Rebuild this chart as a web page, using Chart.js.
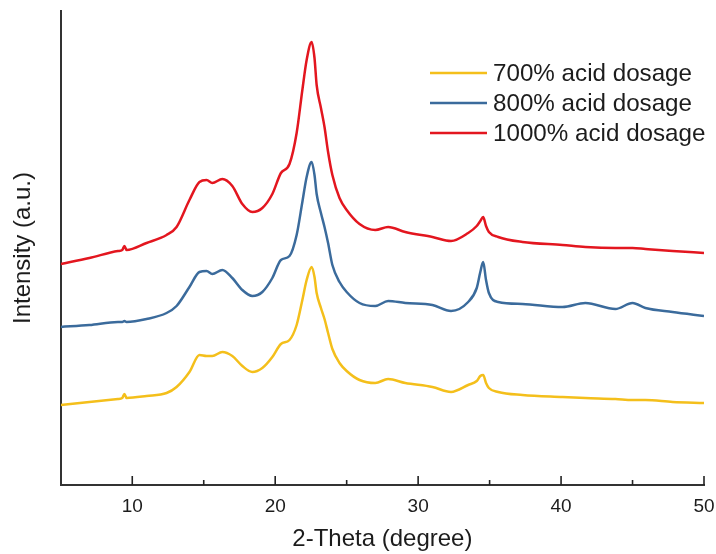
<!DOCTYPE html>
<html>
<head>
<meta charset="utf-8">
<script src="https://cdn.jsdelivr.net/npm/chart.js@4/dist/chart.umd.min.js"></script>
<style>
  html,body{margin:0;padding:0;background:#fff;}
  #wrap{width:716px;height:554px;}
</style>
</head>
<body>
<div id="wrap"><canvas id="chartXrd"></canvas></div>
<script>
/* ==========================================
   DATA
========================================== */
const theta = [
  5,7,9,9.3,9.45,9.6,
  11,12.4,13.1,14.0,14.7,
  15.2,15.6,16.3,17.0,17.7,
  18.4,19.1,19.8,20.4,21.0,
  21.5,21.9,22.2,22.55,22.75,
  22.9,23.2,23.45,23.7,24.0,
  24.5,25.0,25.9,27.0,27.9,
  29.1,31.0,32.3,33.5,34.1,
  34.35,34.55,34.75,34.95,35.6,
  37.3,40.1,41.7,43.8,45.0,
  45.9,47.8,50
];

const acid1000 = [
  221,227,234,235,239,235,
  242,250,258,285,303,
  305,302,306,299,281,
  273,277,291,312,321,
  352,395,425,443,427,
  400,377,358,333,310,
  287,275,261,255,258,
  253,248,244,252,259,
  264,268,259,253,248,
  243,240,238,237,237,
  236,234,232
];

const acid800 = [
  158,160,163,163,164,163,
  166,172,179,198,213,
  214,211,215,207,195,
  189,193,207,225,229,
  250,283,308,323,310,
  291,272,258,242,220,
  203,193,182,179,184,
  182,180,174,183,197,
  213,223,205,192,183,
  181,178,182,176,182,
  177,173,169
];

const acid700 = [
  80,83,86,87,91,87,
  89,92,98,113,130,
  129,129,133,129,119,
  113,117,128,141,145,
  160,185,205,218,208,
  192,177,166,152,136,
  122,114,105,102,106,
  102,98,93,100,104,
  109,110,102,97,93,
  90,88,87,86,85,
  85,83,82
];

const seriesLabels = [
  "700% acid dosage",
  "800% acid dosage",
  "1000% acid dosage"
];

const seriesColors = [
  "#f4bf1b",
  "#3b6b9c",
  "#e3161f"
];

const FONT = "'Liberation Sans', Arial, sans-serif";
const INK = "#1c1c1c";

function toPoints(values){
  return theta.map((t,i)=>({x:t,y:values[i]}));
}

/* ==========================================
   INWARD TICKS ON X AXIS
========================================== */
const inwardTicks = {
  id:"inwardTicks",
  afterDraw(chart){
    const xs = chart.scales.x;
    const ctx = chart.ctx;
    const bottom = chart.chartArea.bottom;
    ctx.save();
    ctx.strokeStyle = "#222";
    ctx.lineWidth = 1.6;
    xs.ticks.forEach(tk=>{
      if(tk.value===xs.min) return;
      const px = xs.getPixelForValue(tk.value);
      const len = tk.value % 10 === 0 ? 9 : 5;
      ctx.beginPath();
      ctx.moveTo(px,bottom);
      ctx.lineTo(px,bottom-len);
      ctx.stroke();
    });
    ctx.restore();
  }
};

/* ==========================================
   LEGEND (top right, lines + labels)
========================================== */
const lineLegend = {
  id:"lineLegend",
  afterDraw(chart){
    const ctx = chart.ctx;
    const x0 = 430, x1 = 487, tx = 493;
    const rows = [73,103,133];
    ctx.save();
    ctx.font = "24.2px " + FONT;
    ctx.textBaseline = "middle";
    ctx.fillStyle = INK;
    seriesLabels.forEach((lbl,i)=>{
      ctx.strokeStyle = seriesColors[i];
      ctx.lineWidth = 2.5;
      ctx.beginPath();
      ctx.moveTo(x0,rows[i]);
      ctx.lineTo(x1,rows[i]);
      ctx.stroke();
      ctx.fillText(lbl,tx,rows[i]+1);
    });
    ctx.restore();
  }
};

/* ==========================================
   CHART
========================================== */
const data = [acid700, acid800, acid1000];

new Chart(
  document.getElementById("chartXrd"),
  {
    type:"line",
    data:{
      datasets:data.map((vals,i)=>({
        label:seriesLabels[i],
        data:toPoints(vals),
        borderColor:seriesColors[i],
        borderWidth:2.5,
        pointRadius:0,
        fill:false,
        cubicInterpolationMode:"monotone"
      }))
    },
    options:{
      responsive:true,
      maintainAspectRatio:false,
      animation:false,
      layout:{
        padding:{top:11,right:12,bottom:0,left:0}
      },
      plugins:{
        legend:{display:false},
        tooltip:{enabled:false}
      },
      scales:{
        x:{
          type:"linear",
          min:5,
          max:50,
          grid:{display:false,drawTicks:false},
          border:{display:true,color:"#333",width:2},
          ticks:{
            stepSize:5,
            autoSkip:false,
            maxRotation:0,
            padding:10,
            color:INK,
            font:{family:FONT,size:19},
            callback:v=> v % 10 === 0 ? String(v) : ""
          },
          title:{
            display:true,
            text:"2-Theta (degree)",
            color:INK,
            font:{family:FONT,size:24},
            padding:{top:0,bottom:0}
          },
          afterFit(scale){
            scale.height = 69;
            scale.paddingRight = 0;
            scale.paddingLeft = 0;
          }
        },
        y:{
          min:0,
          max:474,
          grid:{display:false,drawTicks:false},
          border:{display:true,color:"#333",width:2},
          ticks:{display:false},
          title:{
            display:true,
            text:"Intensity (a.u.)",
            color:INK,
            font:{family:FONT,size:24},
            padding:{top:9,bottom:23}
          }
        }
      }
    },
    plugins:[inwardTicks,lineLegend]
  }
);
</script>
</body>
</html>
